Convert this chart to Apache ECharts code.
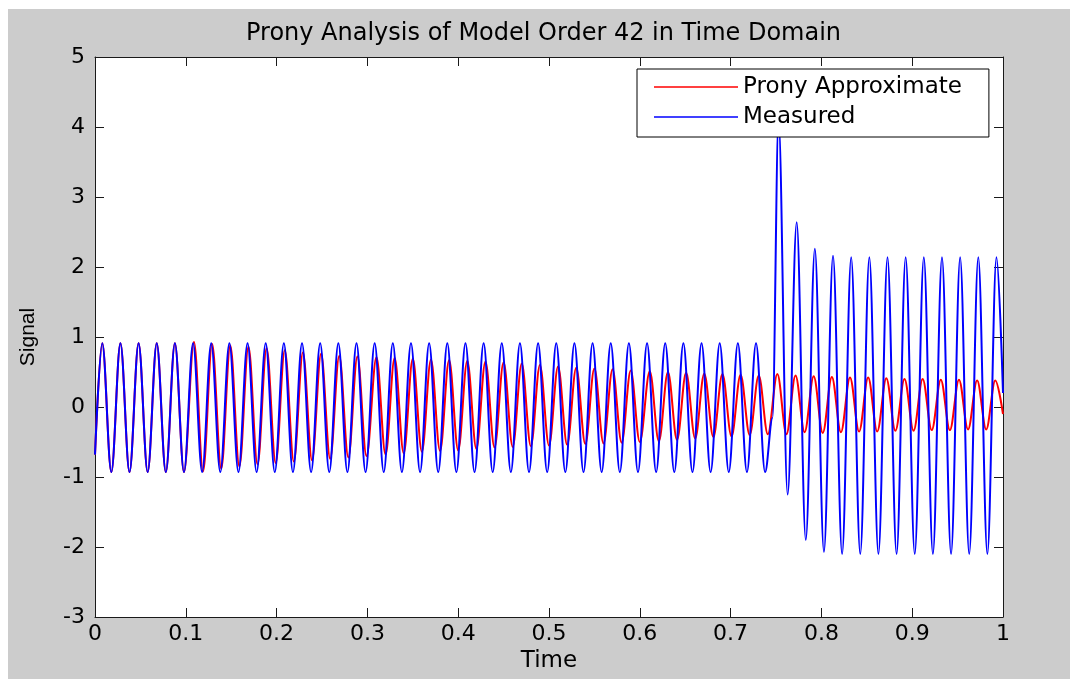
<!DOCTYPE html>
<html>
<head>
<meta charset="utf-8">
<script src="https://cdn.jsdelivr.net/npm/echarts@6/dist/echarts.min.js"></script>
<style>
    html, body { margin: 0; padding: 0; background: #fff; }
    #figure { position: absolute; left: 8px; top: 9px; width: 1062px; height: 670px; background: #cccccc; }
    #main { position: absolute; left: 0; top: 0; width: 1070px; height: 679px; }
</style>
</head>
<body>
<div id="figure"></div>
<div id="main"></div>
<script>
// Measured signal: peak / trough turning points
var measuredTime = [0,
    0.008, 0.018, 0.028, 0.038, 0.048, 0.058, 0.068, 0.078, 0.088, 0.098,
    0.108, 0.118, 0.128, 0.138, 0.148, 0.158, 0.168, 0.178, 0.188, 0.198,
    0.208, 0.218, 0.228, 0.238, 0.248, 0.258, 0.268, 0.278, 0.288, 0.298,
    0.308, 0.318, 0.328, 0.338, 0.348, 0.358, 0.368, 0.378, 0.388, 0.398,
    0.408, 0.418, 0.428, 0.438, 0.448, 0.458, 0.468, 0.478, 0.488, 0.498,
    0.508, 0.518, 0.528, 0.538, 0.548, 0.558, 0.568, 0.578, 0.588, 0.598,
    0.608, 0.618, 0.628, 0.638, 0.648, 0.658, 0.668, 0.678, 0.688, 0.698,
    0.708, 0.718, 0.728, 0.738,
    0.7461,
    0.7528, 0.7628, 0.7728, 0.7828, 0.7928, 0.8028,
    0.8128, 0.8228, 0.8328, 0.8428, 0.8528, 0.8628, 0.8728, 0.8828, 0.8928,
    0.9028, 0.9128, 0.9228, 0.9328, 0.9428, 0.9528, 0.9628, 0.9728, 0.9828,
    0.9928, 1];
var measuredValue = [-0.68,
    0.91, -0.93, 0.91, -0.93, 0.91, -0.93, 0.91, -0.93, 0.91, -0.93,
    0.91, -0.93, 0.91, -0.93, 0.91, -0.93, 0.91, -0.93, 0.91, -0.93,
    0.91, -0.93, 0.91, -0.93, 0.91, -0.93, 0.91, -0.93, 0.91, -0.93,
    0.91, -0.93, 0.91, -0.93, 0.91, -0.93, 0.91, -0.93, 0.91, -0.93,
    0.91, -0.93, 0.91, -0.93, 0.91, -0.93, 0.91, -0.93, 0.91, -0.93,
    0.91, -0.93, 0.91, -0.93, 0.91, -0.93, 0.91, -0.93, 0.91, -0.93,
    0.91, -0.93, 0.91, -0.93, 0.91, -0.93, 0.91, -0.93, 0.91, -0.93,
    0.91, -0.93, 0.91, -0.93,
    -0.16,
    4.1, -1.25, 2.64, -1.9, 2.26, -2.07,
    2.16, -2.1, 2.14, -2.1, 2.14, -2.1, 2.14, -2.1, 2.14,
    -2.1, 2.14, -2.1, 2.14, -2.1, 2.14, -2.1, 2.14, -2.1,
    2.14, 0.2];

// Prony approximate: turning points
var pronyTime = [0,
    0.008, 0.018, 0.028, 0.038, 0.048, 0.058, 0.068, 0.078, 0.088, 0.098,
    0.109, 0.119, 0.129, 0.139, 0.149, 0.159, 0.169, 0.179, 0.189, 0.199,
    0.209, 0.219, 0.229, 0.239, 0.249, 0.259, 0.269, 0.279, 0.289, 0.299,
    0.31, 0.32, 0.33, 0.34, 0.35, 0.36, 0.37, 0.38, 0.39, 0.40,
    0.41, 0.42, 0.43, 0.44, 0.45, 0.46, 0.47, 0.48, 0.49, 0.50,
    0.51, 0.52, 0.53, 0.54, 0.55, 0.56, 0.57, 0.58, 0.59, 0.60,
    0.611, 0.621, 0.631, 0.641, 0.651, 0.661, 0.671, 0.681, 0.691, 0.701,
    0.711, 0.721, 0.731, 0.741,
    0.7515, 0.7615, 0.7715, 0.7815, 0.7915, 0.8015, 0.8115, 0.8215,
    0.8315, 0.8415, 0.8515, 0.8615, 0.8715, 0.8815, 0.8915, 0.9015,
    0.9115, 0.9215, 0.9315, 0.9415, 0.9515, 0.9615, 0.9715, 0.9815,
    0.9915, 1];
var pronyValue = [-0.68,
    0.91, -0.93, 0.91, -0.93, 0.91, -0.93, 0.91, -0.93, 0.91, -0.93,
    0.93, -0.92, 0.90, -0.88, 0.88, -0.85, 0.86, -0.82, 0.84, -0.80,
    0.81, -0.78, 0.78, -0.76, 0.76, -0.74, 0.73, -0.72, 0.72, -0.70,
    0.71, -0.68, 0.70, -0.66, 0.69, -0.64, 0.68, -0.63, 0.67, -0.62,
    0.66, -0.60, 0.65, -0.58, 0.64, -0.57, 0.62, -0.56, 0.60, -0.55,
    0.58, -0.54, 0.56, -0.53, 0.55, -0.52, 0.54, -0.51, 0.52, -0.50,
    0.51, -0.49, 0.50, -0.47, 0.49, -0.45, 0.48, -0.43, 0.47, -0.42,
    0.46, -0.40, 0.45, -0.39,
    0.47, -0.39, 0.45, -0.36, 0.44, -0.37, 0.43, -0.36,
    0.42, -0.35, 0.42, -0.35, 0.41, -0.34, 0.40, -0.34,
    0.40, -0.33, 0.39, -0.33, 0.39, -0.32, 0.38, -0.32,
    0.38, -0.1];

function toPairs(ts, vs) {
    return ts.map(function (t, i) { return [t, vs[i]]; });
}

var axisColor = '#1a1a1a';
var labelFont = 'DejaVu Sans';

var option = {
    animation: false,
    textStyle: { fontFamily: labelFont, color: '#000' },
    title: {
        text: 'Prony Analysis of Model Order 42 in Time Domain',
        left: 246,
        top: 22,
        padding: 0,
        textStyle: { fontFamily: labelFont, fontSize: 24, fontWeight: 'normal', color: '#000' }
    },
    legend: {
        orient: 'vertical',
        left: 637,
        top: 69,
        padding: [6, 27, 8, 17],
        icon: 'rect',
        itemWidth: 84,
        itemHeight: 1.5,
        itemGap: 6,
        backgroundColor: '#fff',
        borderColor: '#000',
        borderWidth: 1,
        borderRadius: 0,
        textStyle: { fontFamily: labelFont, fontSize: 23, lineHeight: 24, color: '#000' },
        data: ['Prony Approximate', 'Measured']
    },
    grid: {
        left: 95,
        right: 67,
        top: 57,
        bottom: 62,
        show: true,
        backgroundColor: '#fff',
        borderWidth: 0
    },
    xAxis: [{
        type: 'value',
        min: 0,
        max: 1,
        interval: 0.1,
        name: 'Time',
        nameLocation: 'middle',
        nameGap: 32,
        nameTextStyle: { fontFamily: labelFont, fontSize: 23, color: '#000' },
        axisLine: { show: true, onZero: false, lineStyle: { color: axisColor, width: 1 } },
        axisTick: { show: true, inside: true, length: 9, lineStyle: { color: axisColor } },
        axisLabel: { fontFamily: labelFont, fontSize: 22, color: '#000', margin: 6 },
        splitLine: { show: false }
    }, {
        type: 'value',
        position: 'top',
        min: 0,
        max: 1,
        interval: 0.1,
        axisLine: { show: true, onZero: false, lineStyle: { color: axisColor, width: 1 } },
        axisTick: { show: true, inside: true, length: 9, lineStyle: { color: axisColor } },
        axisLabel: { show: false },
        splitLine: { show: false }
    }],
    yAxis: [{
        type: 'value',
        min: -3,
        max: 5,
        interval: 1,
        name: 'Signal',
        nameLocation: 'middle',
        nameGap: 56,
        nameTextStyle: { fontFamily: 'Liberation Sans', fontSize: 21, color: '#000' },
        axisLine: { show: true, onZero: false, lineStyle: { color: axisColor, width: 1 } },
        axisTick: { show: true, inside: true, length: 9, lineStyle: { color: axisColor } },
        axisLabel: { fontFamily: labelFont, fontSize: 22, color: '#000', margin: 10 },
        splitLine: { show: false }
    }, {
        type: 'value',
        position: 'right',
        min: -3,
        max: 5,
        interval: 1,
        axisLine: { show: true, onZero: false, lineStyle: { color: axisColor, width: 1 } },
        axisTick: { show: true, inside: true, length: 9, lineStyle: { color: axisColor } },
        axisLabel: { show: false },
        splitLine: { show: false }
    }],
    series: [{
        name: 'Prony Approximate',
        type: 'line',
        symbol: 'none',
        smooth: 0.35,
        smoothMonotone: 'x',
        color: '#ff0000',
        lineStyle: { color: '#ff0000', width: 2, join: 'round' },
        data: toPairs(pronyTime, pronyValue)
    }, {
        name: 'Measured',
        type: 'line',
        symbol: 'none',
        smooth: 0.35,
        smoothMonotone: 'x',
        color: '#0000ff',
        lineStyle: { color: '#0000ff', width: 2, join: 'round' },
        data: toPairs(measuredTime, measuredValue)
    }]
};

var myChart = echarts.init(document.getElementById('main'), null, { renderer: 'canvas' });
myChart.setOption(option);
</script>
</body>
</html>
